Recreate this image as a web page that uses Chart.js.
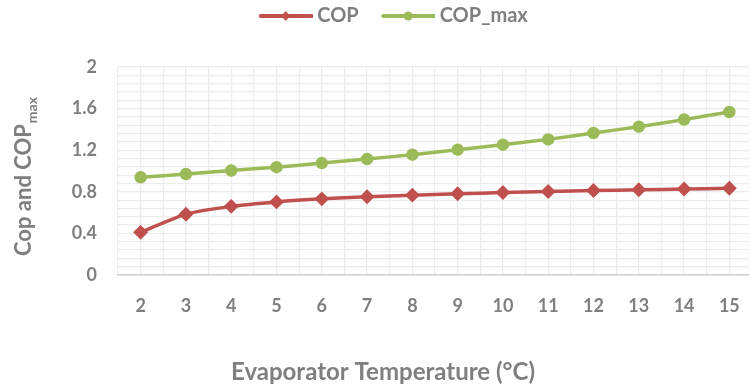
<!DOCTYPE html>
<html>
<head>
<meta charset="utf-8">
<script src="https://cdn.jsdelivr.net/npm/chart.js@4/dist/chart.umd.min.js"></script>
<style>
  html, body { margin: 0; padding: 0; background: #fff; overflow: hidden; }
  #wrap { width: 772px; height: 390px; }
</style>
</head>
<body>
<div id="wrap"><canvas id="cop_chart"></canvas></div>
<script>
// evaporator temperature (°C) and the two COP curves
const temps = [2, 3, 4, 5, 6, 7, 8, 9, 10, 11, 12, 13, 14, 15];
const cop = [0.41, 0.585, 0.66, 0.703, 0.732, 0.752, 0.768, 0.781, 0.793, 0.803, 0.812, 0.819, 0.826, 0.834];
const copMax = [0.94, 0.97, 1.005, 1.037, 1.076, 1.115, 1.157, 1.205, 1.253, 1.304, 1.365, 1.426, 1.494, 1.567];
const yTickLabels = ['0', '0.4', '0.8', '1.2', '1.6', '2'];

const RED = '#c0504d';
const GREEN = '#9bbb59';
const GREY = '#7f7f7f';
const FONT = 'Lato, "Open Sans", sans-serif';

// line+marker swatch for the legend; the line sits right of the canvas centre
// so it ends just before the label text
function swatch(color, marker) {
  const c = document.createElement('canvas');
  c.width = 76;
  c.height = 12;
  const g = c.getContext('2d');
  g.strokeStyle = color;
  g.lineWidth = 4;
  g.lineCap = 'round';
  g.beginPath();
  g.moveTo(24, 6);
  g.lineTo(75, 6);
  g.stroke();
  g.fillStyle = color;
  g.beginPath();
  if (marker === 'diamond') {
    g.moveTo(49, 1); g.lineTo(53.5, 6); g.lineTo(49, 11); g.lineTo(44.5, 6);
  } else {
    g.arc(49, 6, 4.5, 0, Math.PI * 2);
  }
  g.closePath();
  g.fill();
  return c;
}
const legendIcons = [swatch(RED, 'diamond'), swatch(GREEN, 'circle')];

const toPoints = vals => temps.map((t, i) => ({ x: t, y: vals[i] }));

// extra room under the legend
const legendGap = {
  id: 'legendGap',
  beforeLayout(chart) {
    const lg = chart.legend;
    if (lg && !lg._gapped) {
      const fit = lg.fit;
      lg.fit = function () { fit.call(this); this.height += 31; };
      lg._gapped = true;
    }
  }
};

// axis titles (the y title carries a subscript)
const axisTitles = {
  id: 'axisTitles',
  afterDraw(chart) {
    const ctx = chart.ctx;
    ctx.save();
    ctx.fillStyle = GREY;
    ctx.textBaseline = 'alphabetic';

    ctx.font = 'bold 24px ' + FONT;
    ctx.textAlign = 'center';
    ctx.fillText('Evaporator Temperature (°C)', 383, 380);

    const main = 'Cop and COP';
    const sub = 'max';
    ctx.translate(31, 177);
    ctx.rotate(-Math.PI / 2);
    ctx.font = 'bold 22px ' + FONT;
    const w1 = ctx.measureText(main).width;
    ctx.font = 'bold 14px ' + FONT;
    const w2 = ctx.measureText(sub).width;
    const start = -(w1 + w2) / 2;
    ctx.textAlign = 'left';
    ctx.font = 'bold 22px ' + FONT;
    ctx.fillText(main, start, 0);
    ctx.font = 'bold 14px ' + FONT;
    ctx.fillText(sub, start + w1 + 1, 6);
    ctx.restore();
  }
};

const isMajor = (v, step) => Math.abs(v / step - Math.round(v / step)) < 1e-6;

new Chart(document.getElementById('cop_chart'), {
  type: 'line',
  data: {
    datasets: [{
      label: 'COP',
      data: toPoints(cop),
      borderColor: RED,
      backgroundColor: RED,
      borderWidth: 3.5,
      pointStyle: 'rectRot',
      pointRadius: 5,
      pointHoverRadius: 5,
      tension: 0.2
    }, {
      label: 'COP_max',
      data: toPoints(copMax),
      borderColor: GREEN,
      backgroundColor: GREEN,
      borderWidth: 3.5,
      pointStyle: 'circle',
      pointRadius: 4.5,
      pointHoverRadius: 4.5,
      tension: 0.1
    }]
  },
  options: {
    responsive: true,
    maintainAspectRatio: false,
    animation: false,
    layout: { padding: { left: 11, right: 13, top: 0, bottom: 0 } },
    plugins: {
      legend: {
        position: 'top',
        labels: {
          usePointStyle: true,
          pointStyleWidth: 65,
          padding: 6,
          color: GREY,
          font: { family: FONT, size: 20, weight: 'bold' },
          generateLabels(chart) {
            return chart.data.datasets.map((ds, i) => ({
              text: ds.label,
              fillStyle: ds.borderColor,
              strokeStyle: ds.borderColor,
              fontColor: GREY,
              lineWidth: 0,
              pointStyle: legendIcons[i],
              hidden: false,
              datasetIndex: i
            }));
          }
        }
      },
      tooltip: { enabled: false }
    },
    scales: {
      x: {
        type: 'linear',
        min: 1.5,
        max: 15.5,
        afterBuildTicks(scale) {
          const ticks = [];
          for (let i = 0; i <= 28; i++) ticks.push({ value: 1.5 + i * 0.5 });
          scale.ticks = ticks;
        },
        afterFit(scale) { scale.height = 115; },
        grid: { color: '#ececec', lineWidth: 1.2, drawTicks: false },
        border: { color: '#d0d0d0', width: 1.5 },
        ticks: {
          autoSkip: false,
          maxRotation: 0,
          padding: 20,
          color: GREY,
          font: { family: FONT, size: 18, weight: 'bold' },
          callback: v => (isMajor(v, 1) ? String(Math.round(v)) : '')
        }
      },
      y: {
        min: 0,
        max: 2,
        afterBuildTicks(scale) {
          const ticks = [];
          for (let i = 0; i <= 25; i++) ticks.push({ value: i * 0.08 });
          scale.ticks = ticks;
        },
        afterFit(scale) { scale.width = 107; },
        grid: { color: '#ececec', lineWidth: 1.2, drawTicks: false },
        border: { display: false },
        ticks: {
          autoSkip: false,
          padding: 21,
          color: GREY,
          font: { family: FONT, size: 18, weight: 'bold' },
          callback: (v, i) => (i % 5 === 0 ? yTickLabels[i / 5] : '')
        }
      }
    }
  },
  plugins: [legendGap, axisTitles]
});
</script>
</body>
</html>
